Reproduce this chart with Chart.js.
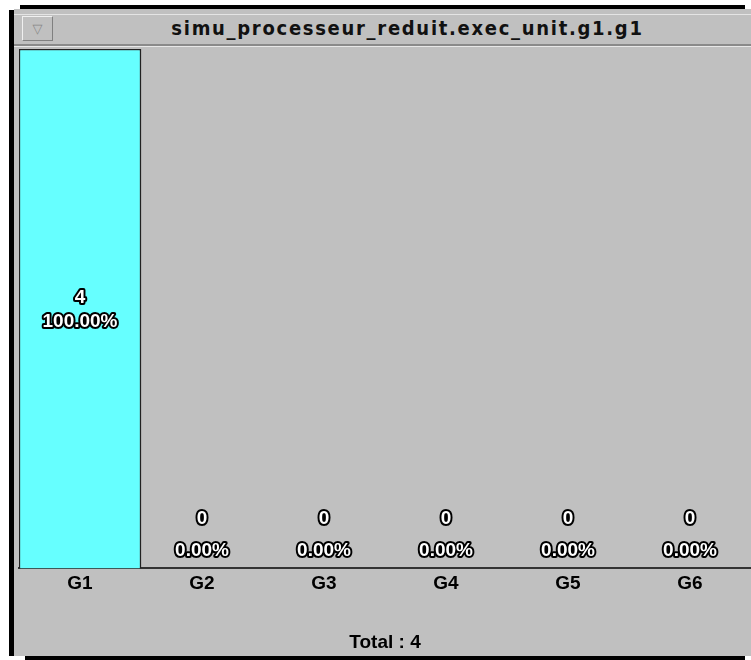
<!DOCTYPE html>
<html>
<head>
<meta charset="utf-8">
<script src="https://cdn.jsdelivr.net/npm/chart.js@4/dist/chart.umd.min.js"></script>
<style>
  html, body { margin: 0; padding: 0; background: #fff; }
  #win { position: relative; width: 751px; height: 660px; overflow: hidden; }
  .blk { position: absolute; background: #000; }
  #panel { position: absolute; left: 14px; top: 9px; right: 0; bottom: 4px; background: #c0c0c0; }
  #titlebar { position: absolute; left: 14px; top: 14px; right: 0; height: 29px;
    border-top: 1px solid #e4e4e4; border-bottom: 2px solid #8a8a8a; box-shadow: 0 1px 0 #e8e8e8; }
  #menubtn { position: absolute; left: 22px; top: 16px; width: 29px; height: 23px;
    border: 1px solid #f0f0f0; border-right-color: #808080; border-bottom-color: #808080;
    color: #888; font: 13px "DejaVu Sans"; text-align: center; line-height: 23px; }
  #title { position: absolute; left: 64px; right: 0; top: 13px; height: 30px; text-align: center;
    font: bold 20px "DejaVu Sans Condensed", "DejaVu Sans"; letter-spacing: 1.7px; line-height: 30px; color: #111; }
  canvas { position: absolute; left: 0; top: 0; }
</style>
</head>
<body>
<div id="win">
  <div id="panel"></div>
  <div class="blk" style="left:20px;top:5px;width:725px;height:4px"></div>
  <div class="blk" style="left:9px;top:10px;width:5px;height:646px"></div>
  <div class="blk" style="left:25px;top:656px;width:720px;height:4px"></div>
  <div id="titlebar"></div>
  <div id="menubtn">&#9661;</div>
  <div id="title">simu_processeur_reduit.exec_unit.g1.g1</div>
  <canvas id="chart" width="751" height="660"></canvas>
</div>
<script>
const CATEGORIES = ["G1", "G2", "G3", "G4", "G5", "G6"];
const COUNTS = [4, 0, 0, 0, 0, 0];
const BAR_COLOR = "#66ffff";

const total = COUNTS.reduce((a, b) => a + b, 0);

// white text with a black outline, like the old X11 widget
const valueLabels = {
  id: "valueLabels",
  afterDatasetsDraw(chart) {
    const ctx = chart.ctx;
    const meta = chart.getDatasetMeta(0);
    const area = chart.chartArea;
    ctx.save();
    ctx.font = "bold 19px 'Liberation Sans'";
    ctx.textAlign = "center";
    ctx.textBaseline = "middle";
    ctx.lineJoin = "round";
    ctx.lineWidth = 4;
    meta.data.forEach((bar, i) => {
      const v = COUNTS[i];
      const pct = (total ? v / total * 100 : 0).toFixed(2) + "%";
      const h = bar.base - bar.y;
      let y1, y2;
      if (h > 70) {
        const mid = (bar.y + bar.base) / 2;
        y1 = mid - 11; y2 = mid + 13;
      } else {
        y1 = area.bottom - 50; y2 = area.bottom - 18;
      }
      for (const [t, y] of [[String(v), y1], [pct, y2]]) {
        ctx.strokeStyle = "#000";
        ctx.strokeText(t, bar.x, y);
        ctx.fillStyle = "#fff";
        ctx.fillText(t, bar.x, y);
      }
    });
    ctx.restore();
  }
};

new Chart(document.getElementById("chart"), {
  type: "bar",
  data: {
    labels: CATEGORIES,
    datasets: [{
      data: COUNTS,
      backgroundColor: BAR_COLOR,
      borderColor: "#222",
      borderWidth: 1.5,
      categoryPercentage: 1,
      barPercentage: 1
    }]
  },
  options: {
    responsive: false,
    animation: false,
    layout: { padding: { left: 19, top: 49, right: 0, bottom: 4 } },
    plugins: { legend: { display: false }, tooltip: { enabled: false } },
    scales: {
      y: { display: false, min: 0, max: 4 },
      x: {
        grid: { display: false, drawTicks: false },
        border: { color: "#333", width: 2 },
        ticks: { color: "#000", font: { family: "Liberation Sans", weight: "bold", size: 19 }, padding: 4 },
        title: {
          display: true, text: "Total : " + total, color: "#000",
          font: { family: "Liberation Sans", weight: "bold", size: 19 },
          padding: { top: 32, bottom: 2 }
        }
      }
    }
  },
  plugins: [valueLabels]
});
</script>
</body>
</html>
